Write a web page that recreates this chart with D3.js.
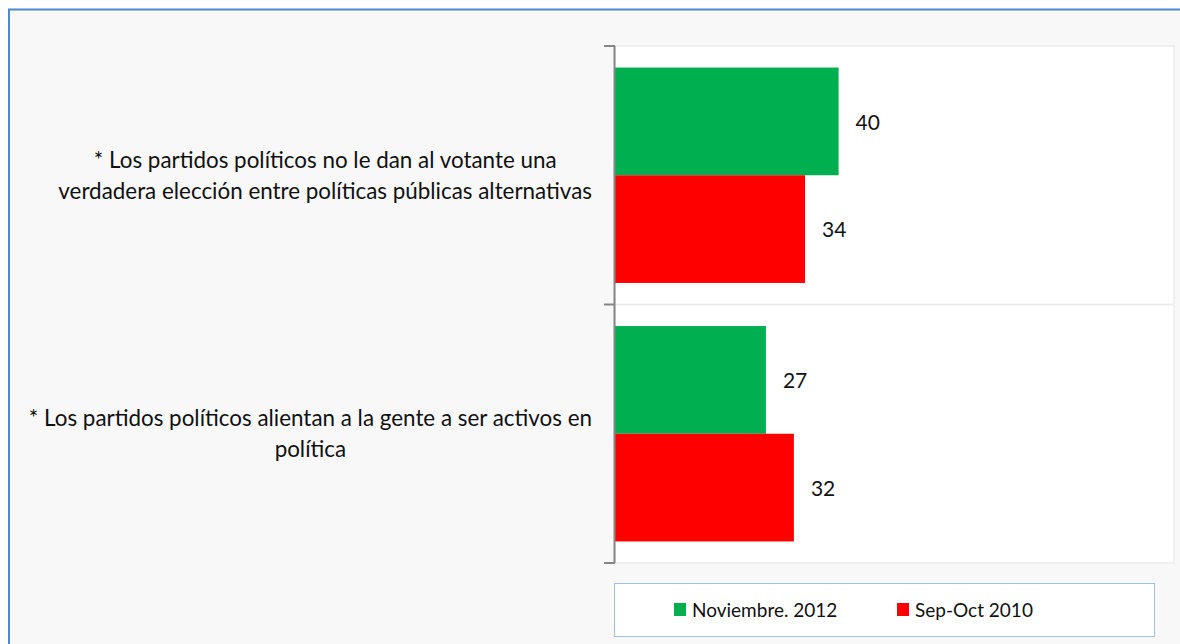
<!DOCTYPE html>
<html><head><meta charset="utf-8">
<script src="https://cdn.jsdelivr.net/npm/d3@7"></script>
<style>
html,body{margin:0;padding:0;background:#fff;}
svg{display:block;}
text{font-family:Lato, "Open Sans", sans-serif;fill:#111;}
</style></head><body>
<svg id="chart" width="1180" height="644"></svg>
<script>
const categories = [
  "* Los partidos políticos no le dan al votante una|verdadera elección entre políticas públicas alternativas",
  "* Los partidos políticos alientan a la gente a ser activos en|política"
];
const seriesNames = ["Noviembre. 2012", "Sep-Oct 2010"];
const seriesColors = ["#00b050", "#ff0000"];
const nov2012 = [40, 27];
const sepOct2010 = [34, 32];
const seriesValues = [nov2012, sepOct2010];

(function(){
const svg = d3.select("#chart");
svg.append("rect").attr("x",0).attr("y",0).attr("width",1180).attr("height",644).attr("fill","#fff");
svg.append("rect").attr("x",9).attr("y",9.5).attr("width",1180).attr("height",650)
  .attr("fill","#f8f8f8").attr("stroke","#4a8ad0").attr("stroke-width",2);

const pL = 615, pR = 1174, pT = 46, pB = 563;
svg.append("rect").attr("x",pL).attr("y",pT).attr("width",pR-pL).attr("height",pB-pT)
  .attr("fill","#fff").attr("stroke","#ececec").attr("stroke-width",1.5);

const x = d3.scaleLinear().domain([0,100]).range([pL,pR]);
const y = d3.scaleBand().domain(d3.range(categories.length)).range([pT,pB]).paddingInner(0).paddingOuter(0);
const sub = d3.scaleBand().domain(d3.range(seriesNames.length)).range([0,y.bandwidth()]).paddingInner(0).paddingOuter(0.2);

svg.append("line").attr("x1",pL).attr("x2",pR).attr("y1",y(1)).attr("y2",y(1))
  .attr("stroke","#ececec").attr("stroke-width",2);

seriesValues.forEach((vals,si)=>{
  const g = svg.append("g");
  g.selectAll("rect").data(vals).join("rect")
    .attr("x",x(0)).attr("y",(d,i)=>y(i)+sub(si))
    .attr("width",d=>x(d)-x(0)).attr("height",sub.bandwidth())
    .attr("fill",seriesColors[si]);
  g.selectAll("text").data(vals).join("text")
    .attr("x",d=>x(d)+17).attr("y",(d,i)=>y(i)+sub(si)+sub.bandwidth()/2+1)
    .attr("dy","0.35em").attr("font-size",21).text(d=>d);
});

svg.append("line").attr("x1",pL-0.5).attr("x2",pL-0.5).attr("y1",pT).attr("y2",pB)
  .attr("stroke","#868686").attr("stroke-width",2);
[pT, y(1), pB].forEach(t=>{
  svg.append("line").attr("x1",pL-11).attr("x2",pL).attr("y1",t).attr("y2",t)
    .attr("stroke","#868686").attr("stroke-width",2);
});

categories.forEach((c,i)=>{
  const lines = c.split("|");
  const g = svg.append("g");
  const ts = lines.map((l,li)=> g.append("text").attr("font-size",22.4).attr("text-anchor","middle")
    .attr("y", y(i)+y.bandwidth()/2 + (li-(lines.length-1)/2)*31).attr("dy","0.35em").text(l));
  const w = d3.max(ts, t=>t.node().getComputedTextLength());
  const cx = 592 - w/2;
  ts.forEach(t=>t.attr("x",cx));
});

const lg = svg.append("g");
lg.append("rect").attr("x",614.5).attr("y",583.5).attr("width",540).attr("height",53)
  .attr("fill","#fff").attr("stroke","#9cc3e6").attr("stroke-width",1);
const legX = [674, 897];
seriesNames.forEach((n,i)=>{
  lg.append("rect").attr("x",legX[i]).attr("y",603).attr("width",12).attr("height",13).attr("fill",seriesColors[i]);
  lg.append("text").attr("x",legX[i]+18).attr("y",610).attr("dy","0.35em").attr("font-size",19).text(n);
});
})();
</script>
</body></html>
